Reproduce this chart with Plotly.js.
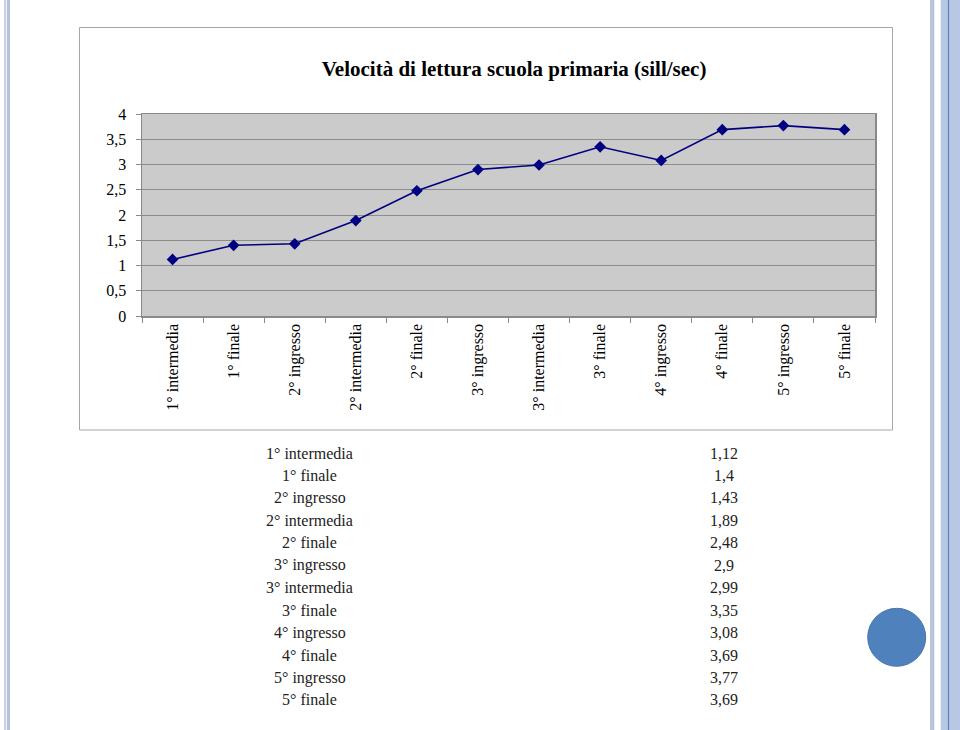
<!DOCTYPE html>
<html>
<head>
<meta charset="utf-8">
<script src="https://cdn.plot.ly/plotly-3.0.1.min.js"></script>
<style>
html,body{margin:0;padding:0;background:#ffffff;}
#chart{width:960px;height:730px;}
</style>
</head>
<body>
<div id="chart"></div>
<script>
// ---- data ----
var categories = ["1° intermedia","1° finale","2° ingresso","2° intermedia","2° finale","3° ingresso","3° intermedia","3° finale","4° ingresso","4° finale","5° ingresso","5° finale"];
var values = [1.12, 1.4, 1.43, 1.89, 2.48, 2.9, 2.99, 3.35, 3.08, 3.69, 3.77, 3.69];
var yTickVals = [0, 0.5, 1, 1.5, 2, 2.5, 3, 3.5, 4];
var titleText = "Velocità di lettura scuola primaria (sill/sec)";

// ---- layout geometry (pixels) ----
var W = 960, H = 730;
var L = 142, R = 875, T = 114, B = 316;
var PW = R - L, PH = B - T;
function px(x){ return (x - L) / PW; }
function py(y){ return (B - y) / PH; }

var serif = "'Liberation Serif', 'Times New Roman', 'DejaVu Serif', serif";

var trace = {
  type: "scatter",
  mode: "lines+markers",
  x: categories,
  y: values,
  line: {color: "#000080", width: 1.6},
  marker: {symbol: "diamond", size: 9, color: "#000080", line: {color: "#000080", width: 0}},
  hoverinfo: "skip"
};

var shapes = [];
// chart frame
shapes.push({type:"rect", xref:"paper", yref:"paper", x0:px(79.5), x1:px(892.5), y0:py(27.5), y1:py(430), line:{color:"#a6a6a6", width:1}, fillcolor:"rgba(0,0,0,0)", layer:"below"});
// left stripes
shapes.push({type:"rect", xref:"paper", yref:"paper", x0:px(4), x1:px(6), y0:py(0), y1:py(730), line:{width:0}, fillcolor:"#c9d1e2", layer:"below"});
shapes.push({type:"rect", xref:"paper", yref:"paper", x0:px(6.8), x1:px(10), y0:py(0), y1:py(730), line:{width:0}, fillcolor:"#b6c2dc", layer:"below"});
// right stripes
shapes.push({type:"rect", xref:"paper", yref:"paper", x0:px(930), x1:px(934.3), y0:py(0), y1:py(730), line:{width:0}, fillcolor:"#b9c3db", layer:"below"});
shapes.push({type:"rect", xref:"paper", yref:"paper", x0:px(940.7), x1:px(960), y0:py(0), y1:py(730), line:{width:0}, fillcolor:"#b8c7e4", layer:"below"});
shapes.push({type:"line", xref:"paper", yref:"paper", x0:px(948.5), x1:px(948.5), y0:py(0), y1:py(730), line:{color:"#5f80b8", width:1.2}, layer:"below"});
// blue circle
shapes.push({type:"circle", xref:"paper", yref:"paper", x0:px(867.7), x1:px(925.7), y0:py(666.3), y1:py(608.3), line:{color:"#4675b0", width:1}, fillcolor:"#4f81bd", layer:"above"});

// table annotations built from data
var annotations = [];
var rowY0 = 453, rowStep = 22.45;
for (var i = 0; i < categories.length; i++) {
  var yy = rowY0 + i * rowStep;
  annotations.push({xref:"paper", yref:"paper", x:px(309.5), y:py(yy), xanchor:"center", yanchor:"middle",
    text: categories[i], showarrow:false, font:{family:serif, size:16, color:"#222222"}});
  annotations.push({xref:"paper", yref:"paper", x:px(724), y:py(yy), xanchor:"center", yanchor:"middle",
    text: String(values[i]).replace(".", ","), showarrow:false, font:{family:serif, size:16, color:"#222222"}});
}

var layout = {
  width: W, height: H,
  margin: {l: L, r: W - R, t: T, b: H - B, pad: 0},
  paper_bgcolor: "#ffffff",
  plot_bgcolor: "#cbcbcb",
  separators: ",.",
  showlegend: false,
  font: {family: serif},
  title: {
    text: titleText,
    xref: "container", yref: "container",
    x: 514 / W, y: 1 - 69 / H,
    xanchor: "center", yanchor: "middle",
    font: {family: serif, size: 21, color: "#000000", weight: "bold"}
  },
  xaxis: {
    type: "category",
    categoryorder: "array",
    categoryarray: categories,
    range: [-0.5, categories.length - 0.5],
    showgrid: false,
    zeroline: false,
    showline: true, linecolor: "#8a8a8a", linewidth: 1.5, mirror: true,
    ticks: "outside", ticklen: 5, tickcolor: "#8a8a8a", tickwidth: 1,
    tickson: "boundaries",
    tickangle: -90,
    tickfont: {family: serif, size: 16, color: "#000000"},
    fixedrange: true
  },
  yaxis: {
    range: [0, 4],
    tickvals: yTickVals,
    showgrid: true, gridcolor: "#8c8c8c", gridwidth: 1,
    zeroline: false,
    showline: true, linecolor: "#8a8a8a", linewidth: 1.5, mirror: true,
    ticks: "outside", ticklen: 5, tickcolor: "#8a8a8a", tickwidth: 1,
    ticklabelstandoff: 6,
    tickfont: {family: serif, size: 16, color: "#000000"},
    fixedrange: true
  },
  shapes: shapes,
  annotations: annotations
};

Plotly.newPlot("chart", [trace], layout, {staticPlot: true, displayModeBar: false});
</script>
</body>
</html>
